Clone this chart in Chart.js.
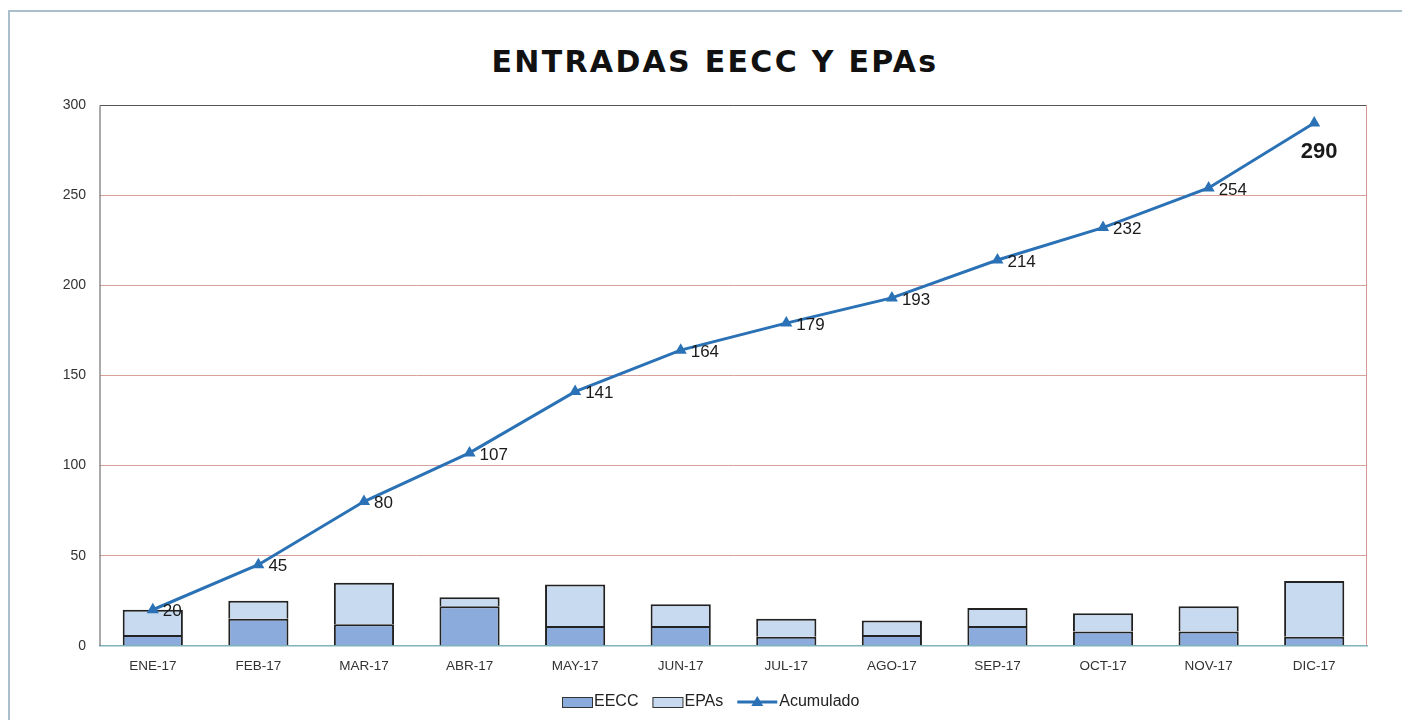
<!DOCTYPE html>
<html>
<head>
<meta charset="utf-8">
<script src="https://cdn.jsdelivr.net/npm/chart.js@4"></script>
<style>
  html, body { margin: 0; padding: 0; background: #fff; }
  body { width: 1402px; height: 720px; position: relative; overflow: hidden; }
  #frame { position: absolute; left: 8px; top: 10px; width: 1400px; height: 720px;
           border-left: 2px solid #a9c0cc; border-top: 2px solid #a9c0cc; }
  #title { position: absolute; left: 0; top: 44px; width: 1430px; text-align: center;
           font: bold 30px "DejaVu Sans", sans-serif; letter-spacing: 2.3px; color: #111; margin: 0; }
  #wrap { position: absolute; left: 0; top: 0; width: 1402px; height: 720px; }
</style>
</head>
<body>
<div id="frame"></div>
<h1 id="title">ENTRADAS EECC Y EPAs</h1>
<div id="wrap"><canvas id="chart" width="1402" height="720"></canvas></div>
<script>
const months = ['ENE-17', 'FEB-17', 'MAR-17', 'ABR-17', 'MAY-17', 'JUN-17',
                'JUL-17', 'AGO-17', 'SEP-17', 'OCT-17', 'NOV-17', 'DIC-17'];
const eecc = [6, 15, 12, 22, 11, 11, 5, 6, 11, 8, 8, 5];
const epas = [14, 10, 23, 5, 23, 12, 10, 8, 10, 10, 14, 31];
const acumulado = [20, 45, 80, 107, 141, 164, 179, 193, 214, 232, 254, 290];
const yTicks = [0, 50, 100, 150, 200, 250, 300];

const lineBlue = '#2a72b5';

// labels next to the line points, plus plot border and legend
const extras = {
    id: 'extras',
    afterDatasetsDraw(chart) {
        const ctx = chart.ctx;
        const a = chart.chartArea;
        ctx.save();
        ctx.strokeStyle = '#555';
        ctx.lineWidth = 1;
        ctx.beginPath();
        ctx.moveTo(a.left, a.bottom);
        ctx.lineTo(a.left, a.top + 0.5);
        ctx.lineTo(a.right - 0.5, a.top + 0.5);
        ctx.stroke();
        ctx.strokeStyle = '#d49a92';
        ctx.beginPath();
        ctx.moveTo(a.right - 0.5, a.top);
        ctx.lineTo(a.right - 0.5, a.bottom);
        ctx.stroke();

        const meta = chart.getDatasetMeta(2);
        meta.data.forEach((pt, i) => {
            const last = i === acumulado.length - 1;
            ctx.fillStyle = '#1a1a1a';
            if (last) {
                ctx.font = 'bold 22px "Liberation Sans", sans-serif';
                ctx.textAlign = 'center';
                ctx.textBaseline = 'middle';
                ctx.fillText(String(acumulado[i]), pt.x + 5, pt.y + 29);
            } else {
                ctx.font = '17px "Liberation Sans", sans-serif';
                ctx.textAlign = 'left';
                ctx.textBaseline = 'middle';
                ctx.fillText(String(acumulado[i]), pt.x + 10, pt.y + 2);
            }
        });

        // legend
        const ly = 702;
        let x = 562;
        ctx.font = '16px "Liberation Sans", sans-serif';
        ctx.textAlign = 'left';
        ctx.textBaseline = 'middle';
        [['EECC', '#8aabdc'], ['EPAs', '#c8daf0']].forEach(([txt, col]) => {
            ctx.fillStyle = col;
            ctx.fillRect(x, ly - 5, 30, 10);
            ctx.strokeStyle = '#333';
            ctx.lineWidth = 1;
            ctx.strokeRect(x + 0.5, ly - 4.5, 30, 10);
            ctx.fillStyle = '#222';
            ctx.fillText(txt, x + 32, ly);
            x += 32 + ctx.measureText(txt).width + 14;
        });
        ctx.strokeStyle = lineBlue;
        ctx.lineWidth = 3;
        ctx.beginPath();
        ctx.moveTo(x, ly);
        ctx.lineTo(x + 40, ly);
        ctx.stroke();
        ctx.fillStyle = lineBlue;
        ctx.beginPath();
        ctx.moveTo(x + 20, ly - 6);
        ctx.lineTo(x + 26, ly + 4);
        ctx.lineTo(x + 14, ly + 4);
        ctx.closePath();
        ctx.fill();
        ctx.fillStyle = '#222';
        ctx.fillText('Acumulado', x + 42, ly);
        ctx.restore();
    }
};

new Chart(document.getElementById('chart'), {
    data: {
        labels: months,
        datasets: [
            {
                type: 'bar', label: 'EECC', data: eecc, stack: 's',
                backgroundColor: '#8aabdc', borderColor: '#222', borderWidth: 2,
                barPercentage: 0.57, categoryPercentage: 1, order: 2
            },
            {
                type: 'bar', label: 'EPAs', data: epas, stack: 's',
                backgroundColor: '#c8daf0', borderColor: '#222', borderWidth: 2,
                barPercentage: 0.57, categoryPercentage: 1, order: 2
            },
            {
                type: 'line', label: 'Acumulado', data: acumulado,
                borderColor: lineBlue, backgroundColor: lineBlue, borderWidth: 3,
                pointStyle: 'triangle', pointRadius: 7, pointBorderWidth: 0,
                tension: 0, order: 1
            }
        ]
    },
    options: {
        responsive: false,
        animation: false,
        layout: { padding: { left: 38, right: 35, top: 105, bottom: 42 } },
        plugins: {
            legend: { display: false },
            title: { display: false },
            tooltip: { enabled: false }
        },
        scales: {
            x: {
                stacked: true,
                grid: { display: false },
                border: { color: '#7fb3bb', width: 1.5 },
                ticks: { color: '#333', font: { family: '"Liberation Sans", sans-serif', size: 13.5 }, padding: 4 }
            },
            y: {
                stacked: true,
                min: 0, max: 300,
                afterFit(s) { s.width = 62; },
                afterBuildTicks(s) { s.ticks = yTicks.map(v => ({ value: v })); },
                grid: { color: '#d6a299', lineWidth: 1, drawTicks: false },
                border: { display: false },
                ticks: { color: '#333', font: { family: '"Liberation Sans", sans-serif', size: 14 }, padding: 14 }
            }
        }
    },
    plugins: [extras]
});
</script>
</body>
</html>
